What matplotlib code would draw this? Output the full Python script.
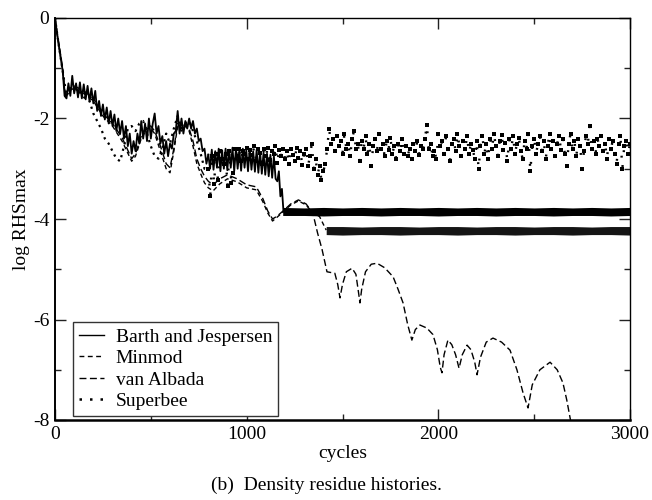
import numpy as np
import matplotlib
matplotlib.use("Agg")
import matplotlib.pyplot as plt
from matplotlib.lines import Line2D

plt.rcParams['font.family'] = ['Liberation Serif', 'DejaVu Serif']
plt.rcParams['axes.unicode_minus'] = False

# ---------------- data ----------------
# Barth and Jespersen: noisy start (every 10 cycles)
bj_early_x = np.arange(0, 801, 10)
bj_early_y = [0.0, -0.3, -0.55, -0.8, -1.05, -1.55, -1.6, -1.3, -1.55, -1.15,
              -1.5, -1.3, -1.58, -1.28, -1.6, -1.32, -1.62, -1.35, -1.66, -1.4,
              -1.7, -1.45, -1.85, -1.65, -1.95, -1.72, -2.02, -1.78, -2.1, -1.85,
              -2.15, -1.92, -2.25, -2.0, -2.3, -2.05, -2.4, -2.15, -2.55, -2.3,
              -2.7, -2.45, -2.65, -2.3, -2.5, -2.05, -2.4, -2.1, -2.45, -2.0,
              -2.4, -2.1, -1.9, -2.3, -2.15, -2.5, -2.35, -2.7, -2.45, -2.75,
              -2.5, -2.6, -2.3, -2.25, -1.85, -2.3, -2.0, -2.3, -2.05, -2.2,
              -2.0, -2.2, -2.05, -2.3, -2.2, -2.45, -2.4, -2.65, -2.6, -2.9,
              -2.72]
# Barth and Jespersen: comb-like oscillation 800-1150 (every 9 cycles)
bj_comb_x = np.arange(800, 1160, 9)
bj_comb_y = [-2.72, -3.0, -2.62, -3.02, -2.65, -2.98, -2.6, -3.05, -2.63, -3.0,
             -2.6, -3.03, -2.62, -2.98, -2.58, -3.05, -2.6, -3.0, -2.62, -3.04,
             -2.6, -2.98, -2.63, -3.05, -2.6, -3.02, -2.65, -3.06, -2.62, -3.08,
             -2.66, -3.1, -2.68, -3.12, -2.7, -3.15, -2.72, -3.18, -2.75, -3.2]
bj_drop_x = [1160, 1168, 1176, 1184, 1192]
bj_drop_y = [-3.25, -3.05, -3.55, -3.4, -3.85]
# Barth and Jespersen: converged band (envelope)
bj_band_x = [1188, 1300, 1400, 1500, 1600, 1700, 1800, 1900, 2000, 2100, 2200,
             2300, 2400, 2500, 2600, 2700, 2800, 2900, 3000]
bj_band_hi = [-3.77, -3.78, -3.77, -3.78, -3.77, -3.78, -3.77, -3.78, -3.77, -3.78,
              -3.77, -3.78, -3.77, -3.78, -3.77, -3.78, -3.77, -3.78, -3.77]
bj_band_lo = [-3.93, -3.93, -3.94, -3.93, -3.93, -3.94, -3.93, -3.93, -3.94, -3.93,
              -3.93, -3.94, -3.93, -3.93, -3.94, -3.93, -3.93, -3.94, -3.93]

# Minmod
mm_x = [0, 20, 40, 55, 70, 100, 150, 200, 250, 300, 350, 400, 420, 450, 480,
        500, 520, 550, 580, 600, 620, 640, 660, 680, 700, 720, 740, 760, 780,
        800, 825, 860, 900, 950, 1000, 1050, 1085, 1110, 1135, 1160, 1190,
        1230, 1270, 1310, 1345, 1380, 1415]
mm_y = [0.0, -0.55, -1.05, -1.6, -1.45, -1.4, -1.5, -1.65, -1.95, -2.15, -2.45,
        -2.85, -2.75, -2.4, -2.2, -2.2, -2.3, -2.65, -3.0, -3.08, -2.65, -2.15,
        -2.25, -2.15, -2.25, -2.55, -2.9, -3.1, -3.28, -3.38, -3.44, -3.3, -3.2,
        -3.26, -3.38, -3.42, -3.66, -3.88, -4.04, -3.96, -3.86, -3.72, -3.64,
        -3.72, -3.88, -3.95, -4.22]
mm_band_x = [1415, 1500, 1600, 1700, 1800, 1900, 2000, 2100, 2200, 2300, 2400,
             2500, 2600, 2700, 2800, 2900, 3000]
mm_band_hi = [-4.15, -4.15, -4.16, -4.15, -4.15, -4.16, -4.15, -4.15, -4.16, -4.15,
              -4.15, -4.16, -4.15, -4.15, -4.16, -4.15, -4.15]
mm_band_lo = [-4.31, -4.32, -4.31, -4.31, -4.32, -4.31, -4.31, -4.32, -4.31, -4.31,
              -4.32, -4.31, -4.31, -4.32, -4.31, -4.31, -4.32]

# van Albada
va_x = [0, 20, 40, 55, 70, 100, 150, 200, 250, 300, 350, 400, 420, 450, 480,
        500, 520, 550, 580, 600, 620, 640, 660, 680, 700, 720, 740, 760, 780,
        800, 825, 860, 900, 950, 1000, 1050, 1085, 1110, 1135, 1160, 1190,
        1230, 1270, 1310, 1345, 1370, 1393, 1419, 1460, 1475, 1487, 1500, 1520,
        1550, 1570, 1585, 1591, 1600, 1620, 1650, 1680, 1720, 1764, 1790, 1816,
        1840, 1862, 1880, 1904, 1940, 1972, 1995, 2010, 2019, 2030, 2050, 2070,
        2090, 2108, 2125, 2150, 2170, 2190, 2202, 2220, 2250, 2285, 2330, 2374,
        2410, 2442, 2468, 2490, 2530, 2583, 2620, 2650, 2670, 2687, 2695]
va_y = [0.0, -0.5, -1.0, -1.55, -1.42, -1.35, -1.45, -1.6, -1.9, -2.1, -2.38,
        -2.8, -2.7, -2.35, -2.15, -2.15, -2.25, -2.55, -2.9, -2.98, -2.6, -2.1,
        -2.2, -2.1, -2.2, -2.45, -2.8, -3.0, -3.15, -3.25, -3.32, -3.2, -3.12,
        -3.2, -3.32, -3.36, -3.6, -3.84, -4.0, -3.94, -3.84, -3.7, -3.62, -3.7,
        -3.88, -4.28, -4.6, -5.05, -5.08, -5.3, -5.57, -5.3, -5.05, -4.98, -5.1,
        -5.5, -5.67, -5.4, -5.05, -4.9, -4.88, -4.97, -5.15, -5.4, -5.67, -6.1,
        -6.41, -6.2, -6.11, -6.17, -6.3, -6.6, -6.95, -7.06, -6.7, -6.41, -6.5,
        -6.7, -6.97, -6.7, -6.51, -6.6, -6.85, -7.1, -6.75, -6.45, -6.37, -6.45,
        -6.61, -7.0, -7.46, -7.76, -7.3, -7.0, -6.85, -7.0, -7.26, -7.6, -7.95,
        -8.1]

# Superbee: start (every 20 cycles) and scattered later history (every 10)
sb_early_x = np.arange(0, 801, 20)
sb_early_y = [0.0, -0.55, -1.05, -1.55, -1.4, -1.45, -1.4, -1.55, -1.6, -1.65,
              -1.9, -2.05, -2.2, -2.4, -2.5, -2.65, -2.8, -2.85, -2.55, -2.2,
              -2.15, -2.25, -2.1, -2.05, -2.3, -2.55, -2.75, -2.8, -2.6, -2.3,
              -2.5, -2.2, -1.95, -2.2, -2.1, -2.05, -2.25, -2.45, -2.7, -3.0,
              -3.0]
sb_x = np.arange(800, 3001, 10)
sb_y = [-3.0, -3.55, -2.75, -3.3, -2.7, -3.22, -2.65, -2.8, -2.9, -2.7,
        -3.35, -2.65, -3.28, -3.08, -2.6, -2.75, -2.6, -2.85, -2.65, -2.7,
        -2.58, -2.8, -2.62, -2.72, -2.55, -2.85, -2.6, -2.68, -2.9, -2.6,
        -2.75, -2.58, -2.82, -2.65, -2.7, -2.55, -2.88, -2.62, -2.75, -2.6,
        -2.8, -2.65, -2.9, -2.6, -2.72, -2.85, -2.58, -2.78, -2.65, -2.92,
        -2.7, -2.6, -2.95, -2.75, -2.5, -3.0, -2.8, -3.12, -2.95, -3.22,
        -3.05, -2.9, -2.6, -2.2, -2.5, -2.4, -2.65, -2.35, -2.55, -2.45,
        -2.7, -2.3, -2.6, -2.5, -2.75, -2.4, -2.25, -2.6, -2.5, -2.85,
        -2.45, -2.6, -2.35, -2.7, -2.5, -2.95, -2.55, -2.4, -2.65, -2.3,
        -2.6, -2.5, -2.75, -2.45, -2.62, -2.38, -2.7, -2.55, -2.8, -2.5,
        -2.65, -2.4, -2.7, -2.55, -2.75, -2.6, -2.8, -2.5, -2.65, -2.45,
        -2.72, -2.55, -2.6, -2.4, -2.13, -2.6, -2.5, -2.75, -2.65, -2.8,
        -2.3, -2.55, -2.45, -2.7, -2.35, -2.6, -2.85, -2.5, -2.4, -2.65,
        -2.3, -2.55, -2.75, -2.45, -2.6, -2.35, -2.7, -2.5, -2.62, -2.8,
        -2.45, -3.0, -2.55, -2.35, -2.7, -2.5, -2.8, -2.4, -2.6, -2.3,
        -2.55, -2.75, -2.45, -2.32, -2.62, -2.48, -2.85, -2.4, -2.6, -2.35,
        -2.7, -2.5, -2.38, -2.65, -2.8, -2.45, -2.6, -2.3, -3.05, -2.55,
        -2.4, -2.7, -2.5, -2.35, -2.65, -2.45, -2.8, -2.55, -2.3, -2.6,
        -2.45, -2.75, -2.5, -2.35, -2.62, -2.4, -2.7, -2.95, -2.5, -2.3,
        -2.6, -2.45, -2.75, -2.4, -2.55, -3.0, -2.65, -2.35, -2.5, -2.15,
        -2.6, -2.45, -2.7, -2.4, -2.55, -2.35, -2.65, -2.5, -2.8, -2.4,
        -2.6, -2.45, -2.7, -2.9, -2.5, -2.35, -3.0, -2.55, -2.45, -2.7,
        -2.5]

labels = ["Barth and Jespersen", "Minmod", "van Albada", "Superbee"]
x_ticks = [0, 1000, 2000, 3000]
y_ticks = [0, -2, -4, -6, -8]

# ---------------- figure ----------------
fig = plt.figure(figsize=(6.52, 5.0), dpi=100)
ax = fig.add_axes([55/652, 80/500, 575/652, 402/500])

k = 'black'
mm_dash = (0, (3.2, 2.2))
va_dash = (0, (5.0, 2.4))

# Barth and Jespersen
ax.plot(bj_early_x, bj_early_y, color=k, lw=1.3)
ax.plot(np.concatenate([bj_comb_x, bj_drop_x]), bj_comb_y + bj_drop_y,
        color=k, lw=1.3)
ax.fill_between(bj_band_x, bj_band_lo, bj_band_hi, color=k, lw=0)

# Minmod
ax.plot(mm_x, mm_y, color=k, lw=1.0, linestyle=mm_dash)
ax.fill_between(mm_band_x, mm_band_lo, mm_band_hi, color='#151515', lw=0)

# van Albada
ax.plot(va_x, va_y, color=k, lw=1.0, linestyle=va_dash)

# Superbee
ax.plot(sb_early_x, sb_early_y, color=k, lw=1.6, linestyle=(0, (1, 2)))
ax.plot(sb_x, sb_y, color=k, lw=1.7, linestyle=(0, (0.8, 5.5)))
ax.plot(sb_x, sb_y, linestyle='none', marker='s', ms=2.3, color=k, mew=0)

ax.set_xlim(0, 3000)
ax.set_ylim(-8, 0)
ax.set_xticks(x_ticks)
ax.set_yticks(y_ticks)
ax.set_xticks(np.arange(500, 3000, 1000), minor=True)
ax.set_yticks(np.arange(-7, 0, 2), minor=True)
ax.tick_params(which='both', direction='in', top=True, right=True,
               labelsize=14, width=1.0, color='#222222')
ax.tick_params(which='major', length=8, pad=4)
ax.tick_params(which='minor', length=4.5)
for s in ['top', 'right']:
    ax.spines[s].set_linewidth(1.0)
ax.spines['left'].set_linewidth(1.4)
ax.spines['bottom'].set_linewidth(1.8)

ax.set_xlabel("cycles", fontsize=14, labelpad=2)
ax.set_ylabel("log RHSmax", fontsize=14, labelpad=2)

handles = [Line2D([], [], color=k, lw=1.0),
           Line2D([], [], color=k, lw=1.0, linestyle=(0, (3.5, 2.5))),
           Line2D([], [], color=k, lw=1.0, linestyle=(0, (5.0, 2.5))),
           Line2D([], [], color=k, lw=1.8, linestyle=(0, (1, 3.2)))]
leg = ax.legend(handles, labels, loc='lower left',
                bbox_to_anchor=(0.031, 0.01), fontsize=14, frameon=True,
                fancybox=False, edgecolor='#333333', framealpha=1,
                handlelength=1.3, handletextpad=0.6, borderpad=0.3,
                labelspacing=0.2, borderaxespad=0)
leg.get_frame().set_linewidth(1.0)

fig.text(0.5, 0.03, "(b)  Density residue histories.", ha='center',
         va='center', fontsize=14)

fig.savefig("out.png", dpi=100)
